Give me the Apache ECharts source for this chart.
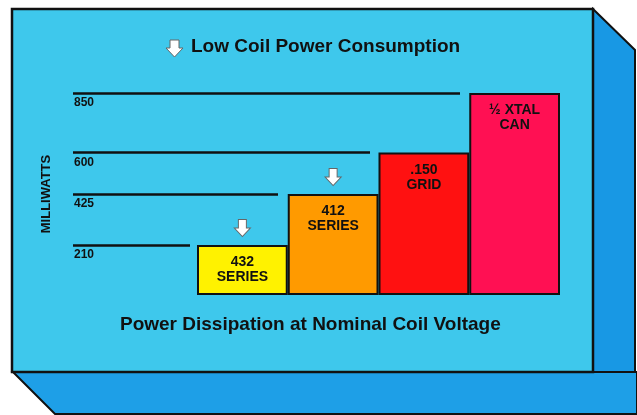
<!DOCTYPE html>
<html>
<head>
<meta charset="utf-8">
<script src="https://cdn.jsdelivr.net/npm/echarts@6/dist/echarts.min.js"></script>
<style>
  html, body { margin: 0; padding: 0; background: #fff; }
  #main { width: 637px; height: 415px; }
</style>
</head>
<body>
<div id="main"></div>
<script>
// data
var categories = ['432\nSERIES', '412\nSERIES', '.150\nGRID', '½ XTAL\nCAN'];
var milliwatts = [210, 425, 600, 850];
var barColors = ['#fff200', '#ff9a00', '#ff1111', '#ff1053'];
var tickValues = [210, 425, 600, 850];
// where each reference line ends (px), one per level
var lineEnds = [190, 278, 370, 460];
var lowPower = [0, 1]; // bars marked with the arrow

var FONT = '"Liberation Sans", Arial, sans-serif';
var arrowPath = 'path://M4,0 L12,0 L12,8 L16,8 L8,16 L0,8 L4,8 Z';

var myChart = echarts.init(document.getElementById('main'));

var barData = milliwatts.map(function (v, i) {
    return { value: v, itemStyle: { color: barColors[i] } };
});

var levelLines = tickValues.map(function (v, i) {
    return [{ x: 73, yAxis: v }, { x: lineEnds[i], yAxis: v }];
});

var arrows = lowPower.map(function (i) {
    return { coord: [i, milliwatts[i]], symbolOffset: [0, -17] };
});

option = {
    animation: false,
    backgroundColor: '#ffffff',
    graphic: [
        // side face
        { type: 'polygon', z: -10, shape: { points: [[593, 9], [635, 50], [635, 415], [593, 415]] },
          style: { fill: '#1898e4', stroke: '#111', lineWidth: 2 } },
        // bottom face
        { type: 'polygon', z: -10, shape: { points: [[13, 372], [55, 414], [637, 414], [637, 372]] },
          style: { fill: '#1e9fe7', stroke: '#111', lineWidth: 2 } },
        // front face
        { type: 'rect', z: -9, shape: { x: 12, y: 9, width: 581, height: 363 },
          style: { fill: '#3ec8ec', stroke: '#111', lineWidth: 2.5 } },
        // title arrow
        { type: 'polygon', z: 5, shape: { points: [[170, 40], [179, 40], [179, 48], [183, 48], [174.5, 57], [166, 48], [170, 48]] },
          style: { fill: '#ffffff', stroke: '#666', lineWidth: 1 } },
        { type: 'text', z: 5, left: 191, top: 37,
          style: { text: 'Low Coil Power Consumption', font: 'bold 19px ' + FONT, fill: '#111' } },
        { type: 'text', z: 5, left: 120, top: 315,
          style: { text: 'Power Dissipation at Nominal Coil Voltage', font: 'bold 19px ' + FONT, fill: '#111' } }
    ],
    grid: { left: 197, right: 77, top: 93, bottom: 120 },
    xAxis: {
        type: 'category',
        data: categories,
        axisLine: { show: false },
        axisTick: { show: false },
        axisLabel: { show: false }
    },
    yAxis: {
        type: 'value',
        min: 0,
        max: 850,
        name: 'MILLIWATTS',
        nameLocation: 'middle',
        nameRotate: 90,
        nameGap: 144,
        nameTextStyle: { fontFamily: FONT, fontWeight: 'bold', fontSize: 13, color: '#111' },
        axisLine: { show: false },
        axisTick: { show: false },
        splitLine: { show: false },
        axisLabel: {
            customValues: tickValues,
            align: 'left',
            verticalAlign: 'top',
            padding: [4, 0, 0, 0],
            margin: 123,
            fontFamily: FONT,
            fontWeight: 'bold',
            fontSize: 12,
            color: '#111'
        }
    },
    series: [{
        type: 'bar',
        data: barData,
        barWidth: '100%',
        itemStyle: { borderColor: '#111', borderWidth: 2 },
        label: {
            show: true,
            position: 'insideTop',
            distance: 10,
            formatter: function (p) { return p.name; },
            fontFamily: FONT,
            fontWeight: 'bold',
            fontSize: 14,
            lineHeight: 15,
            color: '#111'
        },
        markLine: {
            silent: true,
            symbol: 'none',
            label: { show: false },
            lineStyle: { color: '#111', type: 'solid', width: 2.5 },
            data: levelLines
        },
        markPoint: {
            silent: true,
            symbol: arrowPath,
            symbolSize: [16, 17],
            itemStyle: { color: '#ffffff', borderColor: '#666', borderWidth: 1 },
            label: { show: false },
            data: arrows
        }
    }]
};
myChart.setOption(option);
</script>
</body>
</html>
